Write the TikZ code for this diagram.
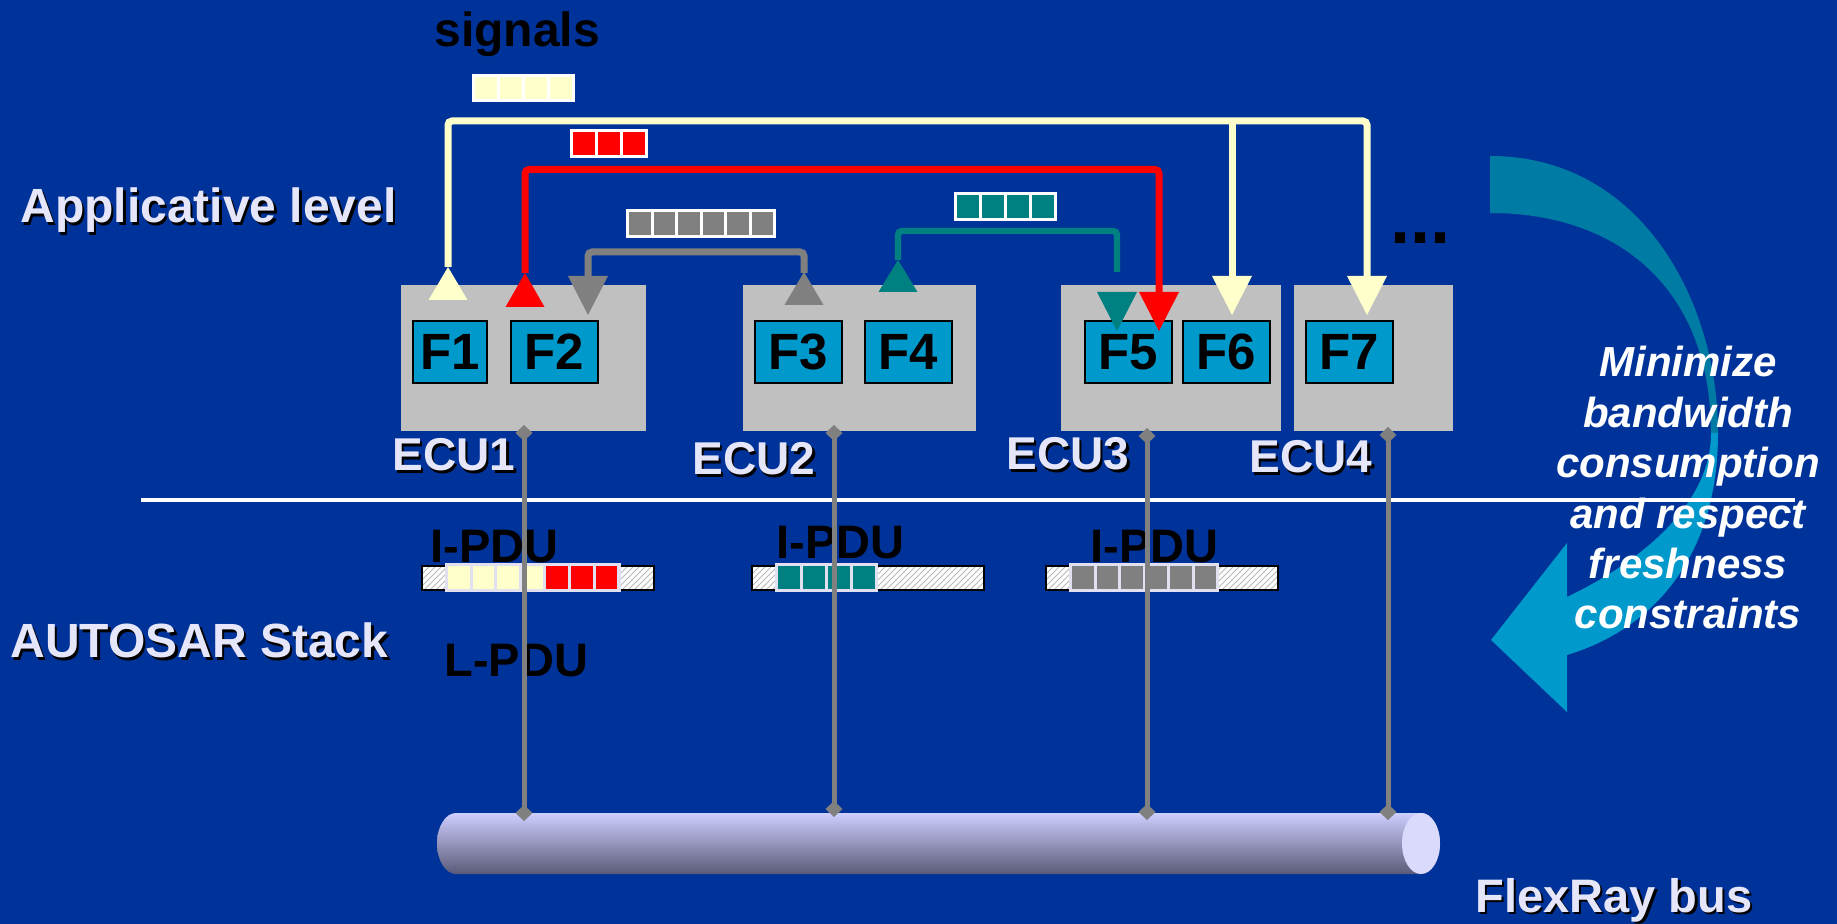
\documentclass[tikz,border=0pt]{standalone}
\usepackage{fontspec}
\setmainfont{Liberation Sans}
\usetikzlibrary{arrows.meta,patterns,shapes.geometric}
\definecolor{bg}{RGB}{0,51,153}
\definecolor{sigyellow}{RGB}{255,255,204}
\definecolor{sigred}{RGB}{255,0,0}
\definecolor{sigteal}{RGB}{0,128,128}
\definecolor{siggray}{RGB}{128,128,128}
\definecolor{fblue}{RGB}{0,153,204}
\definecolor{ecugray}{RGB}{192,192,192}
\definecolor{lav}{RGB}{230,230,250}
\definecolor{ipduframe}{RGB}{224,224,240}
\definecolor{arrtop}{RGB}{0,123,163}
\definecolor{arrbot}{RGB}{0,153,204}
\definecolor{bustop}{RGB}{206,206,255}
\definecolor{busbot}{RGB}{90,90,120}
\definecolor{buscap}{RGB}{218,218,252}
\definecolor{hatch}{RGB}{185,185,185}
% cell row: #1 name, #2 x, #3 y, #4 n, #5 pitch, #6 height, #7 frame colour, #8 colour list
\newcommand\cellrow[8]{%
  \node[fill=#7, inner sep=0, minimum width={(#4*#5+3)*0.5pt}, minimum height={#6*0.5pt}, anchor=north west] (#1) at (#2,#3) {};
  \foreach \cc [count=\ii] in {#8} {
    \fill[\cc] ({#2+3+(\ii-1)*#5},{#3+3}) rectangle ({#2+\ii*#5},{#3+#6-3});
  }%
}
\newcommand\uptri[4]{\fill[#1] ({#2-19.5},#3) -- ({#2+19.5},#3) -- (#2,#4) -- cycle;}
\newcommand\dntri[4]{\fill[#1] ({#2-20},#3) -- ({#2+20},#3) -- (#2,#4) -- cycle;}
\newcommand\shtext[5]{% name, x, y, font, text
  \node[anchor=base west, inner sep=0, text=black, font=#4] (#1s) at ({#2+2.5},{#3+2.5}) {#5};
  \node[anchor=base west, inner sep=0, text=lav, font=#4] (#1) at (#2,#3) {#5};
}
\begin{document}
\begin{tikzpicture}[x=0.5pt,y=-0.5pt,
  sig/.style={line width=3.5pt, rounded corners=2pt},
  ecubox/.style={fill=ecugray, inner sep=0, minimum height=73pt},
  fbox/.style={fill=fblue, draw=black, line width=1pt, inner sep=0, minimum height=31pt, minimum width=43.5pt, font=\bfseries\fontsize{25.5}{25.5}\selectfont, text=black},
  conn/.style={draw=siggray, line width=2.5pt, {Diamond[length=8pt,width=8.5pt]}-{Diamond[length=8pt,width=8.5pt]}},
  bar/.style={draw=black, line width=1pt, preaction={fill=white}, pattern=north east lines, pattern color=hatch},
  blk/.style={anchor=base west, inner sep=0, text=black, font=\bfseries\fontsize{23.5}{28}\selectfont}
]
\useasboundingbox (0,0) rectangle (1837,924);
\fill[bg] (0,0) rectangle (1837,924);

% curved arrow
\fill[arrtop] (1490,156) .. controls (1640,156) and (1718,300) .. (1718,433)
  -- (1711,433) .. controls (1711,292) and (1622,213) .. (1490,213) -- cycle;
\fill[arrbot] (1718,433) .. controls (1718,560) and (1650,630) .. (1567,655)
  -- (1567,712) -- (1491,640) -- (1567,543) -- (1567,597)
  .. controls (1640,562) and (1711,505) .. (1711,433) -- cycle;

% separator
\draw[white, line width=2pt] (141,500) -- (1795,500);

% ECUs
\node[ecubox, minimum width=122.5pt] (ecu1) at (523.5,358) {};
\node[ecubox, minimum width=116.5pt] (ecu2) at (859.5,358) {};
\node[ecubox, minimum width=110pt] (ecu3) at (1171,358) {};
\node[ecubox, minimum width=79.5pt] (ecu4) at (1373.5,358) {};

% functions
\node[fbox, minimum width=37pt] (f1) at (450,352) {F1};
\node[fbox] (f2) at (554,352) {F2};
\node[fbox] (f3) at (798.5,352) {F3};
\node[fbox] (f4) at (908.5,352) {F4};
\node[fbox] (f5) at (1128.5,352) {F5};
\node[fbox] (f6) at (1226.5,352) {F6};
\node[fbox] (f7) at (1349,352) {F7};

% signal paths
\coordinate (ya) at (448,267); \coordinate (yb) at (448,121);
\coordinate (yc) at (1367,121); \coordinate (yd) at (1367,276);
\coordinate (ye) at (1232,121); \coordinate (yf) at (1232,276);
\draw[sig, sigyellow] (ya) -- (yb) -- (yc) -- (yd);
\draw[sig, sigyellow] (ye) -- (yf);
\coordinate (ra) at (525,273); \coordinate (rb) at (525,169.5);
\coordinate (rc) at (1159,169.5); \coordinate (rd) at (1159,292);
\draw[sig, sigred] (ra) -- (rb) -- (rc) -- (rd);
\coordinate (ga) at (804,273); \coordinate (gb) at (804,252);
\coordinate (gc) at (588,252); \coordinate (gd) at (588,276);
\draw[sig, siggray] (ga) -- (gb) -- (gc) -- (gd);
\coordinate (ta) at (898,260); \coordinate (tb) at (898,231);
\coordinate (tc) at (1117,231); \coordinate (td) at (1117,272);
\draw[sig, sigteal, line width=3.2pt] (ta) -- (tb) -- (tc) -- (td);

\uptri{sigyellow}{448}{300}{267}
\uptri{sigred}{525}{307}{273}
\uptri{siggray}{804}{305}{272}
\uptri{sigteal}{898}{292}{260}
\dntri{siggray}{588}{276}{315}
\dntri{sigteal}{1117}{292}{331}
\dntri{sigred}{1159}{292}{331}
\dntri{sigyellow}{1232}{276}{315}
\dntri{sigyellow}{1367}{276}{315}

% signal groups
\cellrow{sy}{472}{74}{4}{25}{28}{white}{sigyellow,sigyellow,sigyellow,sigyellow}
\cellrow{sr}{570}{129}{3}{25}{29}{white}{sigred,sigred,sigred}
\cellrow{sg}{626}{209}{6}{24.5}{29}{white}{siggray,siggray,siggray,siggray,siggray,siggray}
\cellrow{st}{954}{192}{4}{25}{29}{white}{sigteal,sigteal,sigteal,sigteal}

% I-PDU bars
\path[bar] (422,566) rectangle (654,590);
\path[bar] (752,566) rectangle (984,590);
\path[bar] (1046,566) rectangle (1278,590);
\cellrow{p1}{445}{563}{7}{24.6}{29}{ipduframe}{sigyellow,sigyellow,sigyellow,sigyellow,sigred,sigred,sigred}
\cellrow{p2}{775}{563}{4}{25}{29}{ipduframe}{sigteal,sigteal,sigteal,sigteal}
\cellrow{p3}{1069}{563}{6}{24.5}{29}{ipduframe}{siggray,siggray,siggray,siggray,siggray,siggray}

% black labels
\node[blk, font=\bfseries\fontsize{24}{28}\selectfont] (signals) at (434,47) {signals};
\node[blk] (ipdu1) at (430,563) {I-PDU};
\node[blk] (ipdu2) at (776,559) {I-PDU};
\node[blk] (ipdu3) at (1090,563) {I-PDU};
\node[blk] (lpdu) at (444,676) {L-PDU};
\node[blk, font=\bfseries\fontsize{36}{36}\selectfont] (dots) at (1390,244) {...};

% bus
\shade[top color=bustop, bottom color=busbot] (456,813) -- (1421,813)
  arc[start angle=90, end angle=-90, x radius=9.5pt, y radius=15.25pt]
  -- (456,874)
  arc[start angle=-90, end angle=-270, x radius=9.5pt, y radius=15.25pt] -- cycle;
\node[fill=buscap, ellipse, inner sep=0, minimum width=19pt, minimum height=30.5pt] (buscapn) at (1421,843.5) {};

% connections ECU -> bus
\coordinate (c1t) at (524,425); \coordinate (c1b) at (524,821);
\coordinate (c2t) at (834,425); \coordinate (c2b) at (834,817);
\coordinate (c3t) at (1147,428); \coordinate (c3b) at (1147,820);
\coordinate (c4t) at (1388,427); \coordinate (c4b) at (1388,820);
\draw[conn] (c1t) -- (c1b);
\draw[conn] (c2t) -- (c2b);
\draw[conn] (c3t) -- (c3b);
\draw[conn] (c4t) -- (c4b);

% lavender labels
\shtext{appl}{20}{223}{\bfseries\fontsize{24}{28}\selectfont}{Applicative level}
\shtext{autosar}{10}{658}{\bfseries\fontsize{24}{28}\selectfont}{AUTOSAR Stack}
\shtext{ecua}{392}{471}{\bfseries\fontsize{23}{28}\selectfont}{ECU1}
\shtext{ecub}{692}{475}{\bfseries\fontsize{23}{28}\selectfont}{ECU2}
\shtext{ecuc}{1006}{470}{\bfseries\fontsize{23}{28}\selectfont}{ECU3}
\shtext{ecud}{1249}{473}{\bfseries\fontsize{23}{28}\selectfont}{ECU4}
\shtext{flex}{1475}{912}{\bfseries\fontsize{23.5}{28}\selectfont}{FlexRay bus}

% goal
\node[anchor=north, align=center, inner sep=0, text=white, font=\bfseries\itshape\fontsize{21}{25.2}\selectfont] (goal) at (1688,346)
  {Minimize\\bandwidth\\consumption\\and respect\\freshness\\constraints};
\end{tikzpicture}
\end{document}
